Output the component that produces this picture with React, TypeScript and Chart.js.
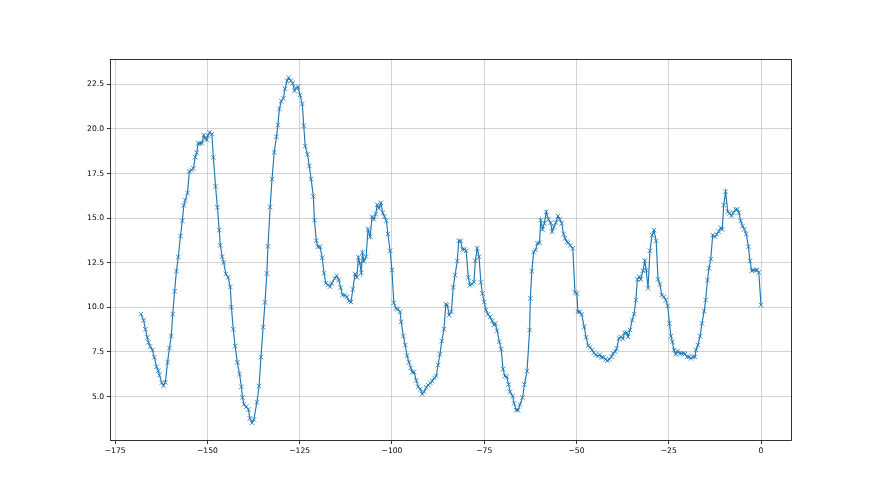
import React, { useEffect, useRef } from "react";
import { Chart, registerables } from "chart.js";

Chart.register(...registerables);

const xValues: number[] = [
  -168.0, -167.3, -166.8, -166.3, -166.0, -165.5, -164.9, -164.4, -163.8, -163.3,
  -163.0, -162.4, -161.9, -161.4, -160.8, -160.3, -159.8, -159.4, -158.9, -158.4,
  -157.9, -157.3, -156.8, -156.4, -156.0, -155.4, -154.9, -154.3, -153.8, -153.3,
  -152.9, -152.5, -152.1, -151.5, -151.0, -150.6, -150.2, -149.9, -149.4, -148.8,
  -148.4, -147.8, -147.3, -146.8, -146.5, -146.0, -145.6, -145.0, -144.4, -143.8,
  -143.5, -143.0, -142.5, -141.9, -141.3,
  -140.8, -140.5, -140.1, -139.5, -138.9, -138.5, -137.9, -137.4, -136.6, -136.0,
  -135.5, -134.9, -134.4, -133.9, -133.6, -133.0, -132.5, -131.9, -131.3, -130.9,
  -130.5, -130.0, -129.4, -129.0, -128.4, -128.0, -127.4, -126.9, -126.4, -125.9,
  -125.5, -124.9, -124.3, -123.9, -123.5, -122.9, -122.4, -121.9, -121.3, -121.0,
  -120.5, -120.1, -119.5, -118.9, -118.4, -117.9, -117.3, -116.8, -116.3, -115.5,
  -115.0, -114.4, -113.9, -113.4,
  -112.7, -112.2, -111.6, -111.1, -110.6, -110.0, -109.5, -109.1, -108.7, -108.3,
  -108.0, -107.6, -107.0, -106.5, -105.9, -105.4, -104.9, -104.4, -104.0, -103.5,
  -103.0, -102.5, -102.0, -101.5, -101.1, -100.5, -100.0, -99.5, -98.9, -98.4,
  -97.8, -97.5, -96.9, -96.4, -95.9, -95.4, -94.9, -94.5, -94.0, -93.4,
  -92.9, -92.3, -91.8, -91.3, -90.7, -90.2, -89.6, -89.1, -88.5, -88.0,
  -87.5, -87.0, -86.5, -85.9, -85.4,
  -85.0, -84.5, -83.9, -83.4, -82.9, -82.3, -81.9, -81.4, -80.9, -80.3,
  -79.9, -79.3, -78.9, -78.3, -77.8, -77.4, -76.9, -76.4, -75.9, -75.5,
  -75.0, -74.5, -74.0, -73.4, -72.9, -72.4, -72.0, -71.5, -70.9, -70.4,
  -69.9, -69.4, -68.9, -68.4, -68.0, -67.3, -66.9, -66.3, -65.8, -65.3,
  -64.6, -64.1, -63.4, -62.7, -62.5, -62.1, -61.6, -61.1, -60.6, -60.0,
  -59.7, -59.2, -58.7, -58.2,
  -57.6, -57.0, -56.6, -56.1, -55.6, -55.0, -54.5, -54.0, -53.5, -53.1,
  -52.6, -52.2, -51.7, -51.0, -50.4, -49.9, -49.6, -49.1, -48.6, -47.9,
  -47.4, -46.8, -46.3, -45.8, -45.3, -44.8, -44.2, -43.7, -43.2, -42.7,
  -42.1, -41.6, -41.1, -40.5, -40.1, -39.5, -39.1, -38.5, -38.0, -37.4,
  -37.0, -36.4, -36.0, -35.5, -34.9, -34.4, -33.9, -33.5, -33.0, -32.6,
  -32.0, -31.5, -31.1, -30.6,
  -30.1, -29.5, -29.0, -28.4, -27.9, -27.4, -26.9, -26.3, -25.8, -25.3,
  -24.8, -24.4, -24.0, -23.6, -23.1, -22.6, -22.1, -21.6, -21.0, -20.6,
  -20.0, -19.5, -19.0, -18.4, -17.9, -17.6, -17.1, -16.5, -16.0, -15.4,
  -15.0, -14.5, -14.1, -13.6, -13.1, -12.5, -12.0, -11.5, -10.9, -10.5,
  -10.1, -9.6, -9.0, -8.5, -8.0, -7.5, -6.9, -6.4, -6.0, -5.5,
  -5.0, -4.5, -4.0, -3.4, -3.0, -2.5, -2.1, -1.5, -1.1, -0.6,
  0.0,
];

const yValues: number[] = [
  9.62, 9.27, 8.77, 8.32, 8.04, 7.81, 7.61, 7.2, 6.67, 6.45,
  6.2, 5.77, 5.61, 5.8, 6.93, 7.72, 8.39, 9.62, 10.9, 12.03,
  12.82, 14.0, 14.85, 15.72, 16.01, 16.41, 17.62, 17.7, 17.79, 18.42,
  18.67, 19.19, 19.19, 19.19, 19.66, 19.47, 19.38, 19.62, 19.81, 19.71,
  18.41, 16.78, 15.61, 14.33, 13.48, 12.84, 12.52, 11.87, 11.68, 11.14,
  10.0, 8.77, 7.83, 6.92, 6.26,
  5.55, 4.95, 4.56, 4.43, 4.28, 3.78, 3.53, 3.72, 4.68, 5.59,
  7.21, 8.9, 10.28, 11.9, 13.42, 15.62, 17.19, 18.69, 19.56, 20.22,
  21.12, 21.56, 21.72, 22.24, 22.7, 22.87, 22.7, 22.56, 22.14, 22.28,
  22.37, 21.9, 21.4, 20.18, 19.04, 18.58, 17.92, 17.19, 16.22, 14.89,
  13.73, 13.4, 13.4, 12.78, 11.91, 11.35, 11.25, 11.16, 11.35, 11.63,
  11.77, 11.53, 11.1, 10.69,
  10.67, 10.59, 10.35, 10.3, 11.01, 11.87, 11.68, 12.8, 12.47, 11.94,
  13.06, 12.58, 12.84, 14.37, 13.96, 15.08, 14.93, 15.23, 15.75, 15.55,
  15.86, 15.3, 15.08, 14.85, 14.11, 13.17, 12.09, 10.26, 9.94, 9.89,
  9.75, 9.19, 8.39, 7.89, 7.29, 6.92, 6.61, 6.37, 6.36, 5.91,
  5.55, 5.42, 5.14, 5.27, 5.52, 5.64, 5.77, 5.87, 6.05, 6.15,
  6.77, 7.37, 8.11, 8.78, 10.17,
  10.13, 9.57, 9.75, 11.12, 11.81, 12.6, 13.73, 13.72, 13.25, 13.25,
  13.17, 11.68, 11.23, 11.31, 11.42, 12.61, 13.31, 12.84, 11.4, 10.78,
  10.3, 9.85, 9.61, 9.47, 9.25, 9.01, 9.1, 8.69, 8.07, 7.66,
  6.54, 6.15, 6.11, 5.68, 5.27, 5.03, 4.62, 4.24, 4.24, 4.56,
  4.95, 5.68, 6.43, 8.73, 10.5, 12.03, 13.1, 13.21, 13.59, 13.62,
  14.89, 14.37, 14.71, 15.36,
  14.93, 14.74, 14.24, 14.52, 14.76, 15.12, 14.93, 14.71, 14.11, 13.87,
  13.68, 13.62, 13.47, 13.31, 10.84, 10.78, 9.75, 9.75, 9.61, 8.91,
  8.32, 7.85, 7.76, 7.61, 7.46, 7.34, 7.27, 7.34, 7.2, 7.2,
  7.09, 7.01, 7.1, 7.23, 7.42, 7.51, 7.7, 8.26, 8.35, 8.24,
  8.58, 8.58, 8.35, 8.73, 9.29, 9.62, 10.41, 11.57, 11.72, 11.57,
  12.05, 12.61, 12.09, 11.07,
  13.17, 14.05, 14.33, 13.72, 11.57, 11.29, 10.69, 10.59, 10.41, 10.09,
  9.1, 8.39, 8.07, 7.61, 7.37, 7.55, 7.42, 7.42, 7.42, 7.38,
  7.23, 7.23, 7.14, 7.23, 7.23, 7.61, 7.89, 8.39, 9.1, 9.79,
  10.41, 11.53, 12.19, 12.71, 14.05, 13.96, 14.09, 14.24, 14.46, 14.37,
  15.73, 16.48, 15.36, 15.27, 15.13, 15.3, 15.49, 15.49, 15.3, 14.84,
  14.56, 14.37, 14.11, 13.4, 12.6, 12.05, 12.09, 12.09, 12.09, 11.96,
  10.13,
];

const xTicks: number[] = [-175, -150, -125, -100, -75, -50, -25, 0];
const yTicks: number[] = [5.0, 7.5, 10.0, 12.5, 15.0, 17.5, 20.0, 22.5];

const W = 880;
const H = 495;
const AREA = { left: 110, right: 792, top: 59, bottom: 441 };
const X_AXIS_H = 30;
const FONT = { family: "'DejaVu Sans', sans-serif", size: 7.6 };

const frame = {
  id: "frame",
  afterDraw(chart: any) {
    const { ctx, chartArea } = chart;
    ctx.save();
    ctx.strokeStyle = "#000";
    ctx.lineWidth = 0.8;
    ctx.strokeRect(
      Math.round(chartArea.left) + 0.5,
      Math.round(chartArea.top) + 0.5,
      Math.round(chartArea.right - chartArea.left) - 1,
      Math.round(chartArea.bottom - chartArea.top) - 1
    );
    ctx.restore();
  },
};

export default function App() {
  const ref = useRef<HTMLCanvasElement | null>(null);

  useEffect(() => {
    if (!ref.current) return;
    const points = xValues.map((x, i) => ({ x, y: yValues[i] }));
    const chart = new Chart(ref.current, {
      type: "line",
      data: {
        datasets: [
          {
            data: points,
            borderColor: "#1f77b4",
            borderWidth: 1.15,
            tension: 0,
            pointStyle: "crossRot",
            pointRadius: 3.2,
            pointBorderWidth: 0.8,
            pointBorderColor: "#1f77b4",
            pointBackgroundColor: "#1f77b4",
            fill: false,
          },
        ],
      },
      options: {
        animation: false,
        responsive: false,
        devicePixelRatio: 1,
        events: [],
        layout: {
          padding: {
            left: 0,
            right: W - AREA.right,
            top: AREA.top,
            bottom: H - AREA.bottom - X_AXIS_H,
          },
        },
        plugins: {
          legend: { display: false },
          tooltip: { enabled: false },
          title: { display: false },
        },
        scales: {
          x: {
            type: "linear",
            min: -176.4,
            max: 8.4,
            afterBuildTicks: (scale: any) => {
              scale.ticks = xTicks.map((v) => ({ value: v }));
            },
            afterFit: (scale: any) => {
              scale.height = X_AXIS_H;
            },
            border: { display: false },
            grid: {
              color: "#c0c0c0",
              lineWidth: 0.7,
              drawTicks: true,
              tickLength: 3,
              tickColor: "#000",
              tickWidth: 0.8,
            },
            ticks: {
              autoSkip: false,
              maxRotation: 0,
              padding: 2,
              color: "#000",
              font: FONT,
              callback: (v: any) => {
                const n = Number(v);
                return n < 0 ? "\u2212" + Math.abs(n) : String(n);
              },
            },
          },
          y: {
            type: "linear",
            min: 2.51,
            max: 23.92,
            afterBuildTicks: (scale: any) => {
              scale.ticks = yTicks.map((v) => ({ value: v }));
            },
            afterFit: (scale: any) => {
              scale.width = AREA.left;
            },
            border: { display: false },
            grid: {
              color: "#c0c0c0",
              lineWidth: 0.7,
              drawTicks: true,
              tickLength: 3,
              tickColor: "#000",
              tickWidth: 0.8,
            },
            ticks: {
              autoSkip: false,
              padding: 3,
              color: "#000",
              font: FONT,
              callback: (v: any) => Number(v).toFixed(1),
            },
          },
        },
      },
      plugins: [frame],
    });
    return () => chart.destroy();
  }, []);

  return (
    <div style={{ position: "absolute", left: 0, top: 0, width: W, height: H, background: "#fff" }}>
      <canvas ref={ref} width={W} height={H} style={{ width: W, height: H, display: "block" }} />
    </div>
  );
}
